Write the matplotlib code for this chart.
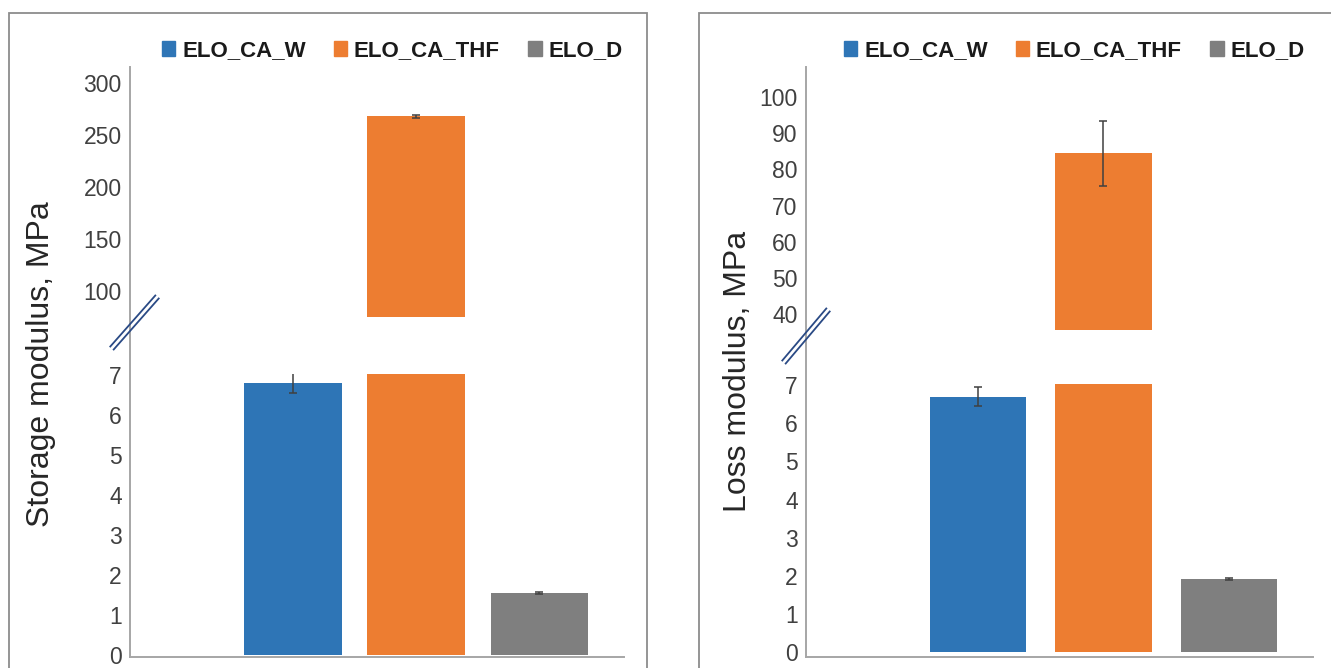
import numpy as np
import matplotlib
matplotlib.use('Agg')
import matplotlib.pyplot as plt
from matplotlib.lines import Line2D
from matplotlib.patches import Rectangle, Patch

W, H = 1331, 668

# data
series = ['ELO_CA_W', 'ELO_CA_THF', 'ELO_D']
colors = ['#2e75b6', '#ed7d31', '#7f7f7f']

storage = [6.8, 268.0, 1.55]
storage_err = [0.25, 1.5, 0.03]
loss = [6.69, 84.5, 1.92]
loss_err = [0.25, 9.0, 0.02]

storage_hi_ticks = [100, 150, 200, 250, 300]
loss_hi_ticks = [40, 50, 60, 70, 80, 90, 100]
lo_ticks = [0, 1, 2, 3, 4, 5, 6, 7]

plt.rcParams['font.family'] = ['Liberation Sans', 'DejaVu Sans']

AXIS_COL = '#a6a6a6'
TEXT_COL = '#404040'


def fx(px):
    return px / W


def fy(py):
    return 1 - py / H


def rect(x0, y0, x1, y1):
    return [fx(x0), fy(y1), (x1 - x0) / W, (y1 - y0) / H]


def panel(fig, frame, xs, hi_y, lo_y, hi_lim, lo_lim, xlim, width,
          vals, errs, hi_ticks, ylabel, label_xy, legend_x, brk):
    # panel border (runs off the bottom of the picture like the original)
    fig.add_artist(Rectangle((fx(frame[0]), fy(720)), (frame[1] - frame[0]) / W,
                             (720 - frame[2]) / H, transform=fig.transFigure,
                             fill=False, edgecolor='#8c8c8c', lw=1.3))

    ax_hi = fig.add_axes(rect(xs[0], hi_y[0], xs[1], hi_y[1]))
    ax_lo = fig.add_axes(rect(xs[0], lo_y[0], xs[1], lo_y[1]))
    x = np.arange(len(series))
    for ax in (ax_hi, ax_lo):
        ax.bar(x, vals, width, color=colors, yerr=errs,
               error_kw=dict(ecolor='#404040', elinewidth=1.1, capsize=3, capthick=1.1))
        ax.set_xlim(xlim)
        ax.set_xticks([])
        for s in ax.spines.values():
            s.set_visible(False)
        ax.tick_params(axis='y', length=0, pad=6, labelsize=16.5, labelcolor=TEXT_COL)
        ax.patch.set_alpha(0)

    ax_hi.set_ylim(hi_lim)
    ax_hi.set_yticks(hi_ticks)
    ax_lo.set_ylim(lo_lim)
    ax_lo.set_yticks(lo_ticks)
    ax_lo.spines['bottom'].set_visible(True)
    ax_lo.spines['bottom'].set_color(AXIS_COL)
    ax_lo.spines['bottom'].set_linewidth(1.4)

    # continuous value axis line
    fig.add_artist(Line2D([fx(xs[0])] * 2, [fy(hi_y[0]), fy(lo_y[1])],
                          color=AXIS_COL, lw=1.4))

    # break marks
    (bx0, by0), (bx1, by1) = brk
    for dx, dy in [(-1.7, -1.5), (1.7, 1.5)]:
        fig.add_artist(Line2D([fx(bx0 + dx), fx(bx1 + dx)], [fy(by0 + dy), fy(by1 + dy)],
                              color='#2a4a85', lw=1.3))

    fig.text(fx(label_xy[0]), fy(label_xy[1]), ylabel, rotation=90,
             ha='center', va='center', fontsize=23, color='#262626')

    handles = [Patch(color=c) for c in colors]
    ax_hi.legend(handles, series, loc='center', ncol=3, frameon=False,
                 bbox_to_anchor=(fx(legend_x), fy(51)), bbox_transform=fig.transFigure,
                 prop=dict(weight='bold', size=16), labelcolor='#1a1a1a',
                 handlelength=0.62, handleheight=0.62, handletextpad=0.3,
                 columnspacing=1.25, borderpad=0)


fig = plt.figure(figsize=(W / 100, H / 100), dpi=100)

panel(fig, (9, 647, 13), (130, 624), (67, 317), (374, 657),
      (75, 315.4), (-0.05, 7.025), (-1.325, 2.69), 0.79,
      storage, storage_err, storage_hi_ticks, 'Storage modulus, MPa',
      (41, 364), 392, ((112, 348), (157, 297)))

panel(fig, (699, 1400, 13), (806, 1313), (67, 330), (384, 657),
      (35.6, 108.3), (-0.13, 7.03), (-1.37, 2.67), 0.77,
      loss, loss_err, loss_hi_ticks, 'Loss modulus, MPa',
      (738, 371), 1074, ((784, 362), (828, 310)))

fig.savefig('out.png', dpi=100)
